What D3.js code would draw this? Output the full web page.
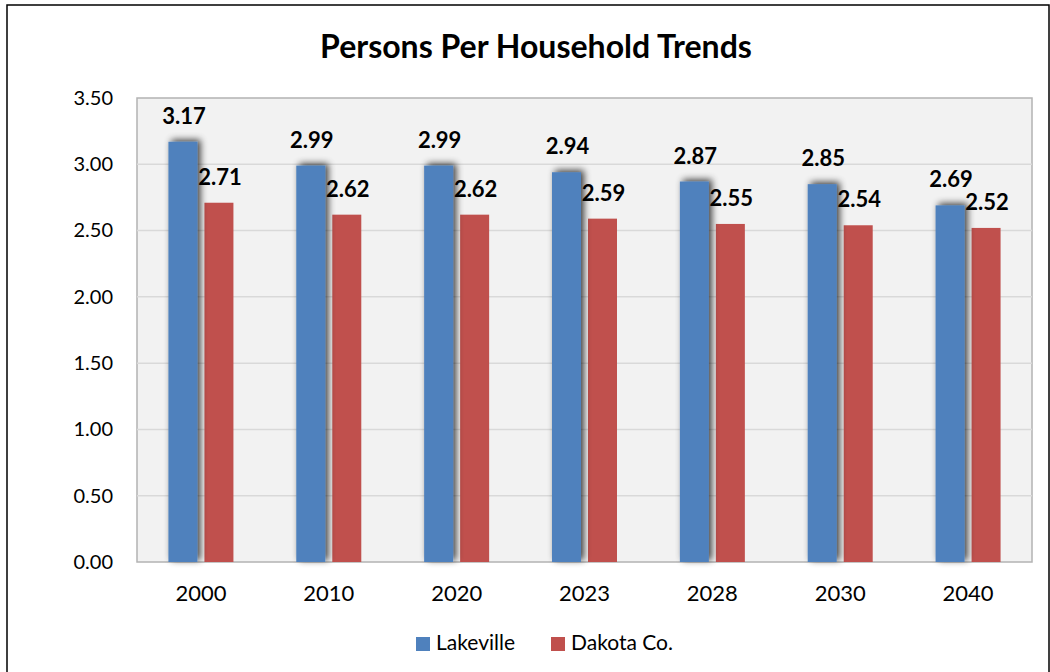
<!DOCTYPE html>
<html>
<head>
<meta charset="utf-8">
<script src="https://cdn.jsdelivr.net/npm/d3@7"></script>
<style>
  html, body { margin: 0; padding: 0; background: #fff; }
  svg { display: block; font-family: "Lato", "Open Sans", sans-serif; }
</style>
</head>
<body>
<svg id="chart" width="1050" height="672"></svg>
<script>
// Persons per household, Lakeville vs. Dakota County
const years = ["2000", "2010", "2020", "2023", "2028", "2030", "2040"];
const lakeville = [3.17, 2.99, 2.99, 2.94, 2.87, 2.85, 2.69];
const dakota = [2.71, 2.62, 2.62, 2.59, 2.55, 2.54, 2.52];
const seriesNames = ["Lakeville", "Dakota Co."];
const yTicks = [0, 0.5, 1, 1.5, 2, 2.5, 3, 3.5];

const colors = { Lakeville: "#4f81bd", "Dakota Co.": "#c0504d" };
const series = [
  { name: seriesNames[0], values: lakeville },
  { name: seriesNames[1], values: dakota }
];

const svg = d3.select("#chart");
const plot = { left: 137, top: 98, right: 1032, bottom: 562 };

// Outer frame
svg.append("rect")
  .attr("x", 7).attr("y", 5).attr("width", 1042).attr("height", 700)
  .attr("fill", "#fff").attr("stroke", "#000").attr("stroke-width", 1.5);

// Shadow for the Lakeville bars
const defs = svg.append("defs");
const f = defs.append("filter").attr("id", "barShadow")
  .attr("x", "-60%").attr("y", "-20%").attr("width", "220%").attr("height", "140%");
f.append("feGaussianBlur").attr("in", "SourceAlpha").attr("stdDeviation", 3.5).attr("result", "blur");
f.append("feOffset").attr("in", "blur").attr("dx", 3).attr("dy", -2).attr("result", "off");
f.append("feComponentTransfer").attr("in", "off").attr("result", "shadow")
  .append("feFuncA").attr("type", "linear").attr("slope", 0.75);
const merge = f.append("feMerge");
merge.append("feMergeNode").attr("in", "shadow");
merge.append("feMergeNode").attr("in", "SourceGraphic");

// Plot area
svg.append("rect")
  .attr("x", plot.left).attr("y", plot.top)
  .attr("width", plot.right - plot.left).attr("height", plot.bottom - plot.top)
  .attr("fill", "#f2f2f2").attr("stroke", "#b3b3b3").attr("stroke-width", 1.5);

const x = d3.scaleBand().domain(years).range([plot.left, plot.right]).paddingInner(0).paddingOuter(0);
const y = d3.scaleLinear().domain([0, 3.5]).range([plot.bottom, plot.top]);

// Gridlines
svg.append("g").selectAll("line").data(yTicks.filter(t => t > 0 && t < 3.5)).join("line")
  .attr("x1", plot.left).attr("x2", plot.right)
  .attr("y1", d => y(d)).attr("y2", d => y(d))
  .attr("stroke", "#d9d9d9").attr("stroke-width", 1.5);

// Y axis labels
const yAxis = d3.axisLeft(y).tickValues(yTicks).tickFormat(d3.format(".2f")).tickSize(0).tickPadding(24);
const yg = svg.append("g").attr("transform", `translate(${plot.left},0)`).call(yAxis);
yg.select(".domain").remove();
yg.selectAll("text").attr("font-size", 20).attr("fill", "#000")
  .attr("font-family", "Lato, 'Open Sans', sans-serif");

// X axis labels
const xAxis = d3.axisBottom(x).tickSize(0).tickPadding(23);
const xg = svg.append("g").attr("transform", `translate(0,${plot.bottom})`).call(xAxis);
xg.select(".domain").remove();
xg.selectAll("text").attr("font-size", 22).attr("fill", "#000")
  .attr("font-family", "Lato, 'Open Sans', sans-serif");

// Bars
const barW = 29, gap = 7;
const sub = d3.scaleOrdinal().domain(seriesNames).range([-(barW + gap / 2), gap / 2]);

// Draw Dakota first so the Lakeville shadow falls over it
[series[1], series[0]].forEach(s => {
  svg.append("g")
    .attr("filter", s.name === "Lakeville" ? "url(#barShadow)" : null)
    .selectAll("rect").data(s.values.map((v, i) => ({ v, year: years[i] }))).join("rect")
    .attr("x", d => x(d.year) + x.bandwidth() / 2 + sub(s.name))
    .attr("y", d => y(d.v))
    .attr("width", barW)
    .attr("height", d => y(0) - y(d.v))
    .attr("fill", colors[s.name]);
});

// Value labels
series.forEach(s => {
  svg.append("g").selectAll("text").data(s.values.map((v, i) => ({ v, year: years[i] }))).join("text")
    .attr("x", d => x(d.year) + x.bandwidth() / 2 + sub(s.name) + barW / 2 + 1)
    .attr("y", d => y(d.v) - 18)
    .attr("text-anchor", "middle")
    .attr("font-size", 22).attr("font-weight", 700).attr("fill", "#000")
    .text(d => d3.format(".2f")(d.v));
});

// Title
const title = svg.append("text")
  .attr("x", 536).attr("y", 58)
  .attr("text-anchor", "middle")
  .attr("font-size", 26).attr("font-weight", 700).attr("fill", "#000")
  .text("Persons Per Household Trends");
const tw = title.node().getComputedTextLength();
title.attr("font-size", 26 * 432 / tw);

// Legend
const legend = svg.append("g");
const legendX = [416, 551];
seriesNames.forEach((name, i) => {
  legend.append("rect").attr("x", legendX[i]).attr("y", 637).attr("width", 14).attr("height", 14)
    .attr("fill", colors[name]);
  legend.append("text").attr("x", legendX[i] + 20).attr("y", 650)
    .attr("font-size", 21).attr("fill", "#000").text(name);
});
</script>
</body>
</html>
